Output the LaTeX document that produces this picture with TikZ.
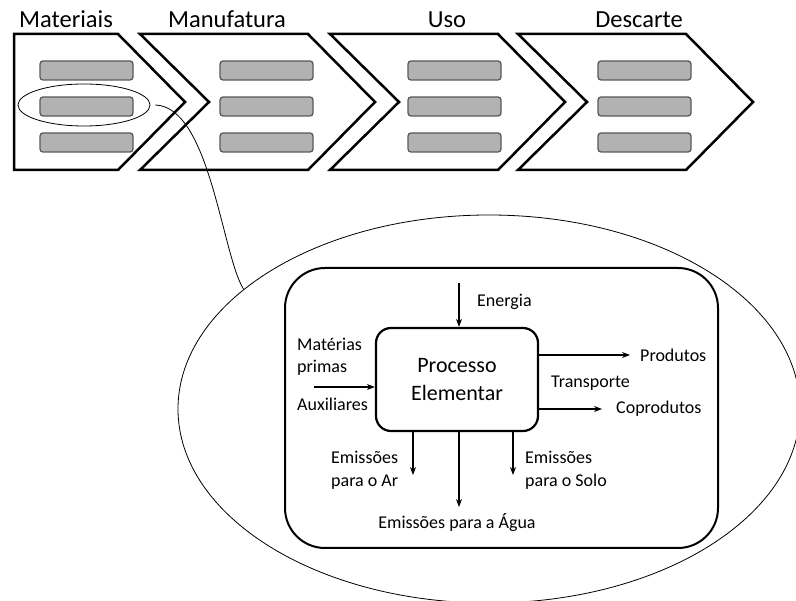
\documentclass[tikz,border=0pt]{standalone}
\usepackage{fontspec}
\setmainfont{Carlito}
\usetikzlibrary{arrows.meta,shapes.geometric,positioning}

\tikzset{
  fasebox/.style={draw=black, line width=2.5pt, line join=miter},
  barra/.style={draw=black!65, fill=black!30, line width=1.3pt, rounded corners=3pt},
  titulo/.style={font=\fontsize{24.5}{26}\selectfont, anchor=base, inner sep=0pt},
  rotulo/.style={font=\fontsize{18}{22.5}\selectfont, align=left, inner sep=0pt},
  seta/.style={-{Stealth[length=8pt,width=6pt]}, line width=1.1pt},
  lupa/.style={draw, ellipse, line width=0.8pt, inner sep=0pt},
}

\begin{document}
\begin{tikzpicture}[x=1pt, y=-1pt]
\useasboundingbox (0,0) rectangle (796,601);

% fases do ciclo de vida
\draw[fasebox] (14,34) -- (118,34) -- (185,102) -- (118,170) -- (14,170) -- cycle;
\foreach \x in {140,330,518}
  \draw[fasebox] (\x,34) -- (\x+168,34) -- (\x+235,102) -- (\x+168,170) -- (\x,170) -- (\x+69,102) -- cycle;
\foreach \x in {40,220,408,598}
  \foreach \y in {61,97,133}
    \draw[barra] (\x,\y) rectangle ++(93,19);

\node[titulo] (materiais) at (66,28) {Materiais};
\node[titulo] (manufatura) at (227,28) {Manufatura};
\node[titulo] (uso) at (447,28) {Uso};
\node[titulo] (descarte) at (639,28) {Descarte};

% detalhe ampliado
\node[lupa, minimum width=132pt, minimum height=42pt] (detalhe) at (84,105) {};
\node[lupa, minimum width=622pt, minimum height=388pt] (zoom) at (489,409) {};
\draw[line width=0.8pt] ([xshift=5pt]detalhe.east) .. controls (210,107) and (222,255) .. (zoom.154);

% processo elementar
\node[draw, line width=2pt, rounded corners=40pt, minimum width=433pt, minimum height=280pt] (unidade) at (501.5,408) {};
\node[draw, line width=2.2pt, rounded corners=15pt, minimum width=162pt, minimum height=103pt,
      align=center, font=\fontsize{22}{28}\selectfont] (processo) at (457,379.5) {Processo\\Elementar};

\coordinate (energia-in) at (459,283);
\draw[seta] (energia-in) -- (energia-in |- processo.north);
\node[rotulo, anchor=west] (energia) at (477,302) {Energia};

\coordinate (entrada) at (314,387);
\draw[seta] (entrada) -- (entrada -| processo.west);
\node[rotulo, anchor=west] (materias) at (297,357) {Matérias\\primas};
\node[rotulo, anchor=west] (auxiliares) at (297,404) {Auxiliares};

\coordinate (produtos-out) at (630,355);
\coordinate (coprodutos-out) at (602,409);
\draw[seta] (processo.east |- produtos-out) -- (produtos-out);
\draw[seta] (processo.east |- coprodutos-out) -- (coprodutos-out);
\node[rotulo, anchor=west] (produtos) at (640,355) {Produtos};
\node[rotulo, anchor=west] (transporte) at (551,383) {Transporte};
\node[rotulo, anchor=west] (coprodutos) at (616,409) {Coprodutos};

\coordinate (ar-out) at (413,475);
\coordinate (agua-out) at (459,507);
\coordinate (solo-out) at (513,475);
\draw[seta] (processo.south -| ar-out) -- (ar-out);
\draw[seta] (processo.south -| agua-out) -- (agua-out);
\draw[seta] (processo.south -| solo-out) -- (solo-out);
\node[rotulo, anchor=west] (ar) at (331,470.5) {Emissões\\para o Ar};
\node[rotulo, anchor=west] (solo) at (525,470.5) {Emissões\\para o Solo};
\node[rotulo] (agua) at (457,523) {Emissões para a Água};
\end{tikzpicture}
\end{document}
